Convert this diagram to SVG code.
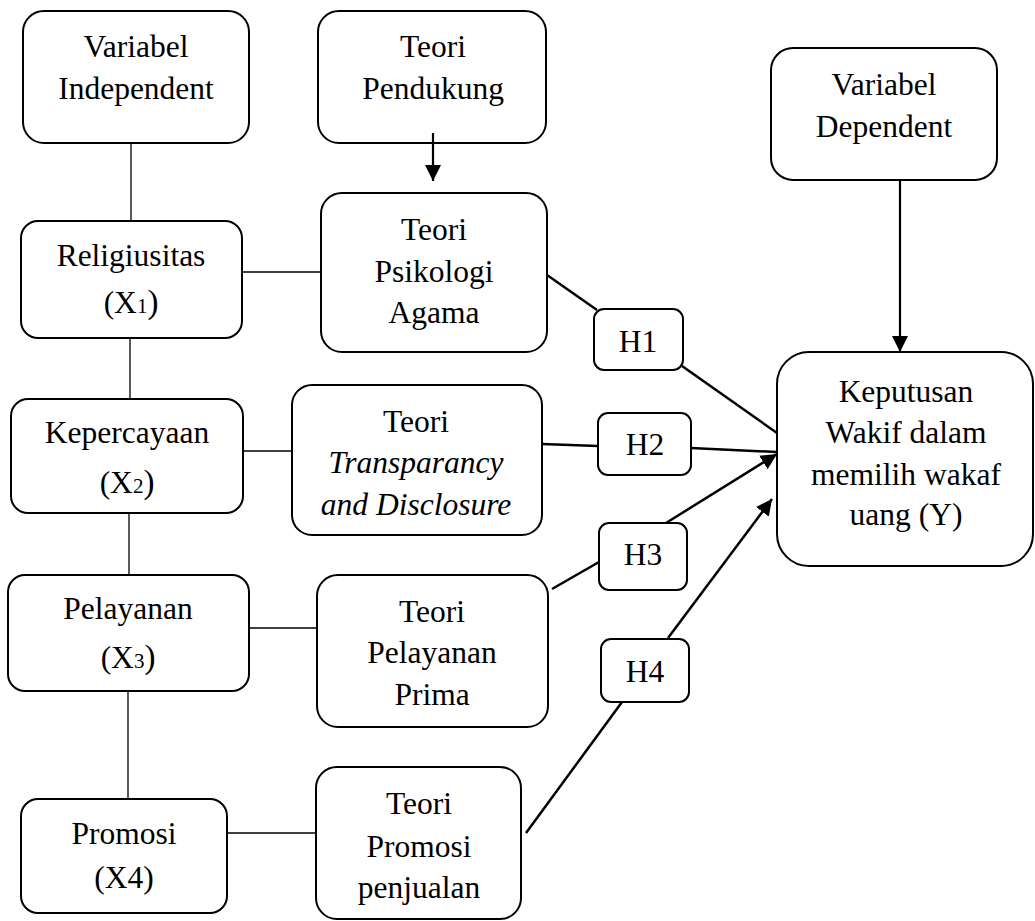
<svg xmlns="http://www.w3.org/2000/svg" width="1035" height="921" viewBox="0 0 1035 921">
<style>
  .box { fill: #ffffff; stroke: #000000; stroke-width: 2; }
  .thin { stroke: #000000; stroke-width: 1.3; fill: none; }
  .thick { stroke: #000000; stroke-width: 2.5; fill: none; }
  .arr { stroke: #000000; stroke-width: 2.2; fill: none; }
  text { font-family: 'Liberation Serif', 'Times New Roman', serif; font-size: 31.5px; fill: #000000; text-anchor: middle; }
  .it { font-style: italic; }
  .sub { font-size: 21px; }
  .par { font-size: 33px; }
</style>
<defs>
  <marker id="ah" markerUnits="userSpaceOnUse" markerWidth="17" markerHeight="16" refX="16" refY="8" orient="auto" viewBox="0 0 17 16">
    <path d="M0,0 L16,8 L0,16 z" fill="#000000"/>
  </marker>
</defs>
<rect width="1035" height="921" fill="#ffffff"/>
<g id="var-independent">
  <rect class="box" x="23" y="11" width="226" height="132" rx="21"/>
  <text x="136" y="57">Variabel</text>
  <text x="136" y="99">Independent</text>
</g>
<g id="teori-pendukung">
  <rect class="box" x="318" y="11" width="228" height="132" rx="21"/>
  <text x="433" y="57">Teori</text>
  <text x="433" y="99">Pendukung</text>
</g>
<g id="var-dependent">
  <rect class="box" x="771" y="48" width="226" height="132" rx="22"/>
  <text x="884" y="95">Variabel</text>
  <text x="884" y="137">Dependent</text>
</g>
<g id="religiusitas">
  <rect class="box" x="21" y="221" width="221" height="117" rx="17"/>
  <text x="131" y="266">Religiusitas</text>
  <text x="131" y="313">(X<tspan class="sub">1</tspan><tspan class="par">)</tspan></text>
</g>
<g id="teori-psikologi">
  <rect class="box" x="321" y="193" width="226" height="159" rx="21"/>
  <text x="434" y="240">Teori</text>
  <text x="434" y="282">Psikologi</text>
  <text x="434" y="323">Agama</text>
</g>
<g id="kepercayaan">
  <rect class="box" x="11" y="399" width="232" height="114" rx="17"/>
  <text x="127" y="443">Kepercayaan</text>
  <text x="127" y="493">(X<tspan class="sub">2</tspan><tspan class="par">)</tspan></text>
</g>
<g id="teori-transparancy">
  <rect class="box" x="292" y="385" width="250" height="150" rx="20"/>
  <text x="416" y="432">Teori</text>
  <text class="it" x="416" y="473">Transparancy</text>
  <text class="it" x="416" y="515">and Disclosure</text>
</g>
<g id="pelayanan">
  <rect class="box" x="8" y="575" width="241" height="116" rx="17"/>
  <text x="128" y="619">Pelayanan</text>
  <text x="128" y="668">(X<tspan class="sub">3</tspan><tspan class="par">)</tspan></text>
</g>
<g id="teori-pelayanan">
  <rect class="box" x="317" y="575" width="231" height="152" rx="21"/>
  <text x="432" y="622">Teori</text>
  <text x="432" y="663">Pelayanan</text>
  <text x="432" y="705">Prima</text>
</g>
<g id="promosi">
  <rect class="box" x="21" y="799" width="206" height="114" rx="17"/>
  <text x="124" y="844">Promosi</text>
  <text x="124" y="888">(X4)</text>
</g>
<g id="teori-promosi">
  <rect class="box" x="316" y="767" width="205" height="152" rx="21"/>
  <text x="419" y="814">Teori</text>
  <text x="419" y="857">Promosi</text>
  <text x="419" y="898">penjualan</text>
</g>
<g id="keputusan">
  <rect class="box" x="777" y="352" width="256" height="214" rx="32"/>
  <text x="906" y="402">Keputusan</text>
  <text x="906" y="443">Wakif dalam</text>
  <text x="906" y="485">memilih wakaf</text>
  <text x="906" y="525">uang (Y)</text>
</g>
<g id="h1">
  <rect class="box" x="594" y="309" width="89" height="61" rx="10"/>
  <text x="638" y="352">H1</text>
</g>
<g id="h2">
  <rect class="box" x="598" y="413" width="93" height="62" rx="10"/>
  <text x="645" y="455">H2</text>
</g>
<g id="h3">
  <rect class="box" x="599" y="523" width="88" height="67" rx="10"/>
  <text x="643" y="565">H3</text>
</g>
<g id="h4">
  <rect class="box" x="601" y="639" width="88" height="63" rx="10"/>
  <text x="645" y="682">H4</text>
</g>
<g id="connectors">
  <line class="thin" x1="131" y1="143" x2="131" y2="221"/>
  <line class="thin" x1="130" y1="338" x2="130" y2="399"/>
  <line class="thin" x1="129" y1="513" x2="129" y2="575"/>
  <line class="thin" x1="128" y1="691" x2="128" y2="799"/>
  <line class="thin" x1="242" y1="272" x2="321" y2="272"/>
  <line class="thin" x1="243" y1="451" x2="292" y2="451"/>
  <line class="thin" x1="249" y1="628" x2="317" y2="628"/>
  <line class="thin" x1="227" y1="833" x2="316" y2="833"/>
  <line class="arr" x1="433" y1="133" x2="433" y2="181" marker-end="url(#ah)"/>
  <line class="arr" x1="900" y1="180" x2="900" y2="352" marker-end="url(#ah)"/>
  <line class="thick" x1="547" y1="275" x2="597" y2="310"/>
  <line class="thick" x1="682" y1="366" x2="777" y2="433"/>
  <line class="thick" x1="542" y1="444" x2="598" y2="446"/>
  <line class="thick" x1="691" y1="448" x2="777" y2="452"/>
  <line class="thick" x1="552" y1="589" x2="599" y2="562"/>
  <line class="thick" x1="666" y1="523" x2="777" y2="454" marker-end="url(#ah)"/>
  <line class="thick" x1="526" y1="833" x2="622" y2="702"/>
  <line class="thick" x1="668" y1="638" x2="772" y2="499" marker-end="url(#ah)"/>
</g>
</svg>
